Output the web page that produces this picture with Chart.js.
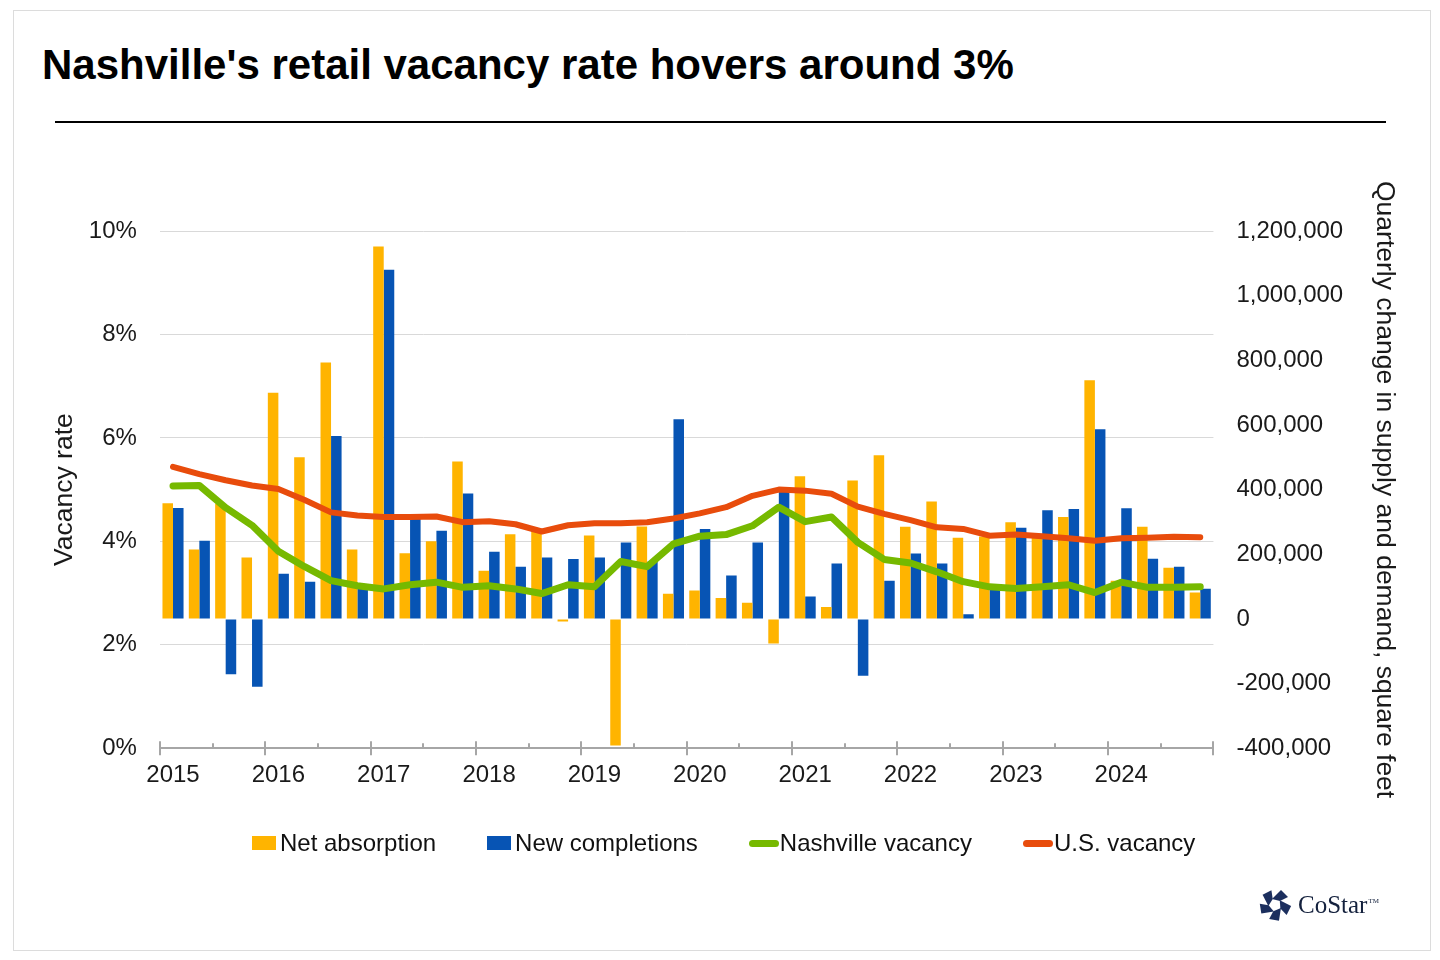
<!DOCTYPE html>
<html>
<head>
<meta charset="utf-8">
<title>Nashville retail vacancy</title>
<script src="https://cdn.jsdelivr.net/npm/chart.js@4.4.1/dist/chart.umd.min.js"></script>
<style>
  html, body { margin: 0; padding: 0; background: #fff; }
  body { width: 1440px; height: 960px; position: relative; overflow: hidden;
         font-family: 'Liberation Sans', Arial, sans-serif; color: #111; }
  .frame { position: absolute; left: 13px; top: 10px; width: 1416px; height: 939px; border: 1px solid #dcdcdc; }
  h1 { position: absolute; left: 42px; top: 44px; margin: 0; font-size: 42px; line-height: 42px;
       font-weight: bold; color: #000; white-space: nowrap; }
  .rule { position: absolute; left: 55px; top: 121px; width: 1331px; height: 2px; background: #000; }
  .chart-box { position: absolute; left: 0; top: 0; width: 1440px; height: 960px; }
  .legend { position: absolute; left: 252px; top: 829px; height: 28px;
            display: flex; align-items: center; font-size: 24px; line-height: 28px; white-space: nowrap; }
  .legend .item { display: flex; align-items: center; margin-right: 51px; }
  .legend .box { width: 24px; height: 14px; margin-right: 4px; }
  .legend .line { width: 30px; height: 7px; border-radius: 4px; margin-right: 1px; }
  .logo { position: absolute; left: 1258px; top: 888px; display: flex; align-items: center; }
  .logo span { font-family: 'Liberation Serif', 'DejaVu Serif', serif; font-size: 25px; color: #14213d; margin-left: 6px; }
  .logo sup { font-size: 7px; vertical-align: 10px; margin-left: 1px; }
</style>
</head>
<body>
<div class="frame"></div>
<h1>Nashville's retail vacancy rate hovers around 3%</h1>
<div class="rule"></div>
<div class="chart-box"><canvas id="vacancyChart"></canvas></div>
<div class="legend" id="legend"></div>
<div class="logo">
  <svg width="34" height="34" viewBox="-17 -17 34 34">
    <g fill="#1c2f5e">
      <polygon points="-3,-6 6,-15 13,-8 5,-4"/>
      <polygon points="-3,-6 6,-15 13,-8 5,-4" transform="rotate(72)"/>
      <polygon points="-3,-6 6,-15 13,-8 5,-4" transform="rotate(144)"/>
      <polygon points="-3,-6 6,-15 13,-8 5,-4" transform="rotate(216)"/>
      <polygon points="-3,-6 6,-15 13,-8 5,-4" transform="rotate(288)"/>
    </g>
  </svg>
  <span>CoStar<sup>TM</sup></span>
</div>
<script>
// quarters 2015 Q1 .. 2024 Q4
const categories = [
  '2015 Q1', '2015 Q2', '2015 Q3', '2015 Q4', '2016 Q1', '2016 Q2', '2016 Q3', '2016 Q4',
  '2017 Q1', '2017 Q2', '2017 Q3', '2017 Q4', '2018 Q1', '2018 Q2', '2018 Q3', '2018 Q4',
  '2019 Q1', '2019 Q2', '2019 Q3', '2019 Q4', '2020 Q1', '2020 Q2', '2020 Q3', '2020 Q4',
  '2021 Q1', '2021 Q2', '2021 Q3', '2021 Q4', '2022 Q1', '2022 Q2', '2022 Q3', '2022 Q4',
  '2023 Q1', '2023 Q2', '2023 Q3', '2023 Q4', '2024 Q1', '2024 Q2', '2024 Q3', '2024 Q4'
];

// square feet
const netAbsorption = [
  358000, 215000, 356000, 190000, 700000, 500000, 793000, 215000,
  1152000, 203000, 240000, 487000, 149000, 262000, 272000, -8000,
  258000, -392000, 286000, 78000, 88000, 65000, 50000, -76000,
  441000, 37000, 428000, 506000, 285000, 363000, 251000, 255000,
  299000, 258000, 315000, 738000, 118000, 285000, 158000, 82000
];
const newCompletions = [
  343000, 242000, -171000, -210000, 140000, 115000, 566000, 95000,
  1080000, 313000, 273000, 388000, 208000, 161000, 190000, 185000,
  190000, 236000, 177000, 618000, 278000, 134000, 236000, 393000,
  69000, 171000, -176000, 118000, 202000, 171000, 14000, 91000,
  282000, 336000, 340000, 587000, 342000, 186000, 161000, 93000
];

// percent
const nashvilleVacancy = [
  5.07, 5.08, 4.65, 4.31, 3.81, 3.51, 3.24, 3.14, 3.08, 3.16,
  3.21, 3.11, 3.14, 3.08, 2.99, 3.16, 3.12, 3.61, 3.51, 3.95,
  4.10, 4.13, 4.30, 4.66, 4.38, 4.47, 3.98, 3.65, 3.58, 3.41,
  3.22, 3.12, 3.09, 3.12, 3.16, 3.01, 3.21, 3.11, 3.11, 3.12
];
const usVacancy = [
  5.44, 5.30, 5.18, 5.08, 5.01, 4.80, 4.56, 4.50, 4.47, 4.47,
  4.48, 4.37, 4.39, 4.33, 4.19, 4.31, 4.35, 4.35, 4.37, 4.44,
  4.54, 4.66, 4.88, 5.00, 4.98, 4.92, 4.67, 4.53, 4.41, 4.27,
  4.24, 4.11, 4.13, 4.10, 4.06, 4.01, 4.06, 4.07, 4.09, 4.08
];

const leftTicks = [0, 2, 4, 6, 8, 10];
const rightTicks = [-400000, -200000, 0, 200000, 400000, 600000, 800000, 1000000, 1200000];

const COLORS = {
  absorption: '#FFB400',
  completions: '#0754B4',
  nashville: '#76B900',
  us: '#E84C0C'
};

Chart.defaults.font.family = "'Liberation Sans', Arial, sans-serif";
Chart.defaults.font.size = 24;
Chart.defaults.color = '#1a1a1a';

// small year / half-year tick marks across the x axis line
const axisTicks = {
  id: 'axisTicks',
  afterDraw(chart) {
    const xs = chart.scales.x;
    const step = xs.getPixelForValue(1) - xs.getPixelForValue(0);
    const start = xs.getPixelForValue(0) - step / 2;
    const y = chart.chartArea.bottom;
    const ctx = chart.ctx;
    ctx.save();
    ctx.strokeStyle = '#A6A6A6';
    ctx.lineWidth = 2;
    for (let i = 0; i <= categories.length; i += 2) {
      const x = Math.round(start + i * step);
      ctx.beginPath();
      if (i % 4 === 0) {
        ctx.moveTo(x, y - 7);
        ctx.lineTo(x, y + 7);
      } else {
        ctx.moveTo(x, y - 5);
        ctx.lineTo(x, y);
      }
      ctx.stroke();
    }
    ctx.restore();
  }
};

const datasets = [
  {
    type: 'bar', label: 'Net absorption', data: netAbsorption, yAxisID: 'yRight',
    backgroundColor: COLORS.absorption, order: 2,
    categoryPercentage: 0.8, barPercentage: 1.0
  },
  {
    type: 'bar', label: 'New completions', data: newCompletions, yAxisID: 'yRight',
    backgroundColor: COLORS.completions, order: 2,
    categoryPercentage: 0.8, barPercentage: 1.0
  },
  {
    type: 'line', label: 'Nashville vacancy', data: nashvilleVacancy, yAxisID: 'yLeft',
    borderColor: COLORS.nashville, borderWidth: 7, pointRadius: 0, tension: 0,
    borderJoinStyle: 'round', borderCapStyle: 'round', fill: false, order: 1
  },
  {
    type: 'line', label: 'U.S. vacancy', data: usVacancy, yAxisID: 'yLeft',
    borderColor: COLORS.us, borderWidth: 6, pointRadius: 0, tension: 0,
    borderJoinStyle: 'round', borderCapStyle: 'round', fill: false, order: 0
  }
];

new Chart(document.getElementById('vacancyChart'), {
  type: 'bar',
  data: { labels: categories, datasets },
  options: {
    responsive: true,
    maintainAspectRatio: false,
    animation: false,
    layout: { padding: { left: 45, right: 36, top: 231, bottom: 157 } },
    plugins: {
      legend: { display: false },
      tooltip: { enabled: false }
    },
    scales: {
      x: {
        offset: true,
        grid: { display: false, drawTicks: false },
        border: { display: true, color: '#A6A6A6', width: 2 },
        ticks: {
          autoSkip: false, maxRotation: 0, padding: 13,
          callback: (v, i) => categories[i].endsWith('Q1') ? categories[i].slice(0, 4) : ''
        }
      },
      yLeft: {
        position: 'left',
        min: leftTicks[0], max: leftTicks[leftTicks.length - 1],
        afterBuildTicks: s => { s.ticks = leftTicks.map(v => ({ value: v })); },
        grid: { color: '#D9D9D9', lineWidth: 1, drawTicks: false },
        border: { display: false },
        ticks: { padding: 23, callback: v => v + '%' },
        title: { display: true, text: 'Vacancy rate', font: { size: 26.5 }, padding: { top: 4, bottom: -15 } }
      },
      yRight: {
        position: 'right',
        min: rightTicks[0], max: rightTicks[rightTicks.length - 1],
        afterBuildTicks: s => { s.ticks = rightTicks.map(v => ({ value: v })); },
        grid: { drawOnChartArea: false, drawTicks: false },
        border: { display: false },
        ticks: { padding: 23, callback: v => v.toLocaleString('en-US') },
        title: {
          display: true, text: 'Quarterly change in supply and demand, square feet',
          font: { size: 26.5 }, padding: { top: 4, bottom: 2 }
        }
      }
    }
  },
  plugins: [axisTicks]
});

// legend built from the dataset definitions
const legendEl = document.getElementById('legend');
datasets.forEach(ds => {
  const item = document.createElement('div');
  item.className = 'item';
  const mark = document.createElement('div');
  mark.className = ds.type === 'bar' ? 'box' : 'line';
  mark.style.background = ds.type === 'bar' ? ds.backgroundColor : ds.borderColor;
  const txt = document.createElement('span');
  txt.textContent = ds.label;
  item.appendChild(mark);
  item.appendChild(txt);
  legendEl.appendChild(item);
});
</script>
</body>
</html>
